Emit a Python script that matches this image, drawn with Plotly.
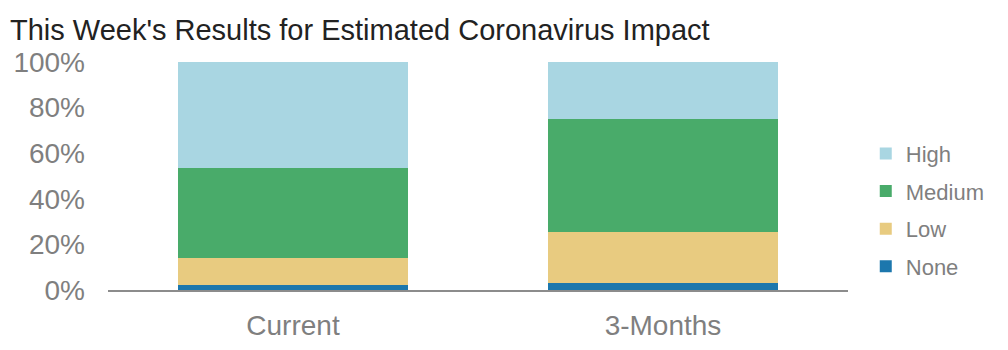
import plotly.graph_objects as go

categories = ["Current", "3-Months"]
none_vals = [2, 3]
low_vals = [12, 22.5]
medium_vals = [39.5, 49.5]
high_vals = [46.5, 25]
tick_vals = [0, 20, 40, 60, 80, 100]
tick_text = ["0%", "20%", "40%", "60%", "80%", "100%"]

series = [
    ("None", none_vals, "#1c77ad", 4),
    ("Low", low_vals, "#e8cb80", 3),
    ("Medium", medium_vals, "#49ab6a", 2),
    ("High", high_vals, "#a9d6e2", 1),
]

FONT = "Liberation Sans, Arial, sans-serif"
GRAY = "#7f7f7f"

fig = go.Figure()
for name, vals, color, rank in series:
    fig.add_trace(go.Bar(
        x=categories, y=vals, name=name, legendgroup=name, legendrank=rank,
        marker=dict(color=color, line=dict(width=0)),
    ))

fig.update_layout(
    barmode="stack",
    bargap=0.376,
    width=1008, height=350,
    margin=dict(l=108, r=160, t=62, b=60),
    paper_bgcolor="white", plot_bgcolor="white",
    font=dict(family=FONT, color=GRAY),
    title=dict(
        text="This Week's Results for Estimated Coronavirus Impact",
        font=dict(family=FONT, size=29, color="#222222"),
        xref="container", x=10/1008, xanchor="left",
        yref="container", y=1 - 30/350, yanchor="middle",
        pad=dict(l=0, t=0, b=0, r=0),
    ),
    legend=dict(
        x=1.024, xanchor="left", y=0.69, yanchor="top",
        traceorder="grouped", tracegroupgap=6,
        font=dict(family=FONT, size=22, color=GRAY),
        bgcolor="rgba(0,0,0,0)",
    ),
    showlegend=True,
)
fig.update_xaxes(
    showline=True, linecolor="#8c8c8c", linewidth=2,
    showgrid=False, ticks="", automargin=False,
    tickfont=dict(family=FONT, size=28, color=GRAY),
    ticklabelstandoff=9,
)
fig.update_yaxes(
    range=[0, 100], showgrid=False, zeroline=False, showline=False,
    tickvals=tick_vals, ticktext=tick_text, automargin=False,
    tickfont=dict(family=FONT, size=28, color=GRAY),
    ticklabelstandoff=22,
)

fig.write_html("out.html")
